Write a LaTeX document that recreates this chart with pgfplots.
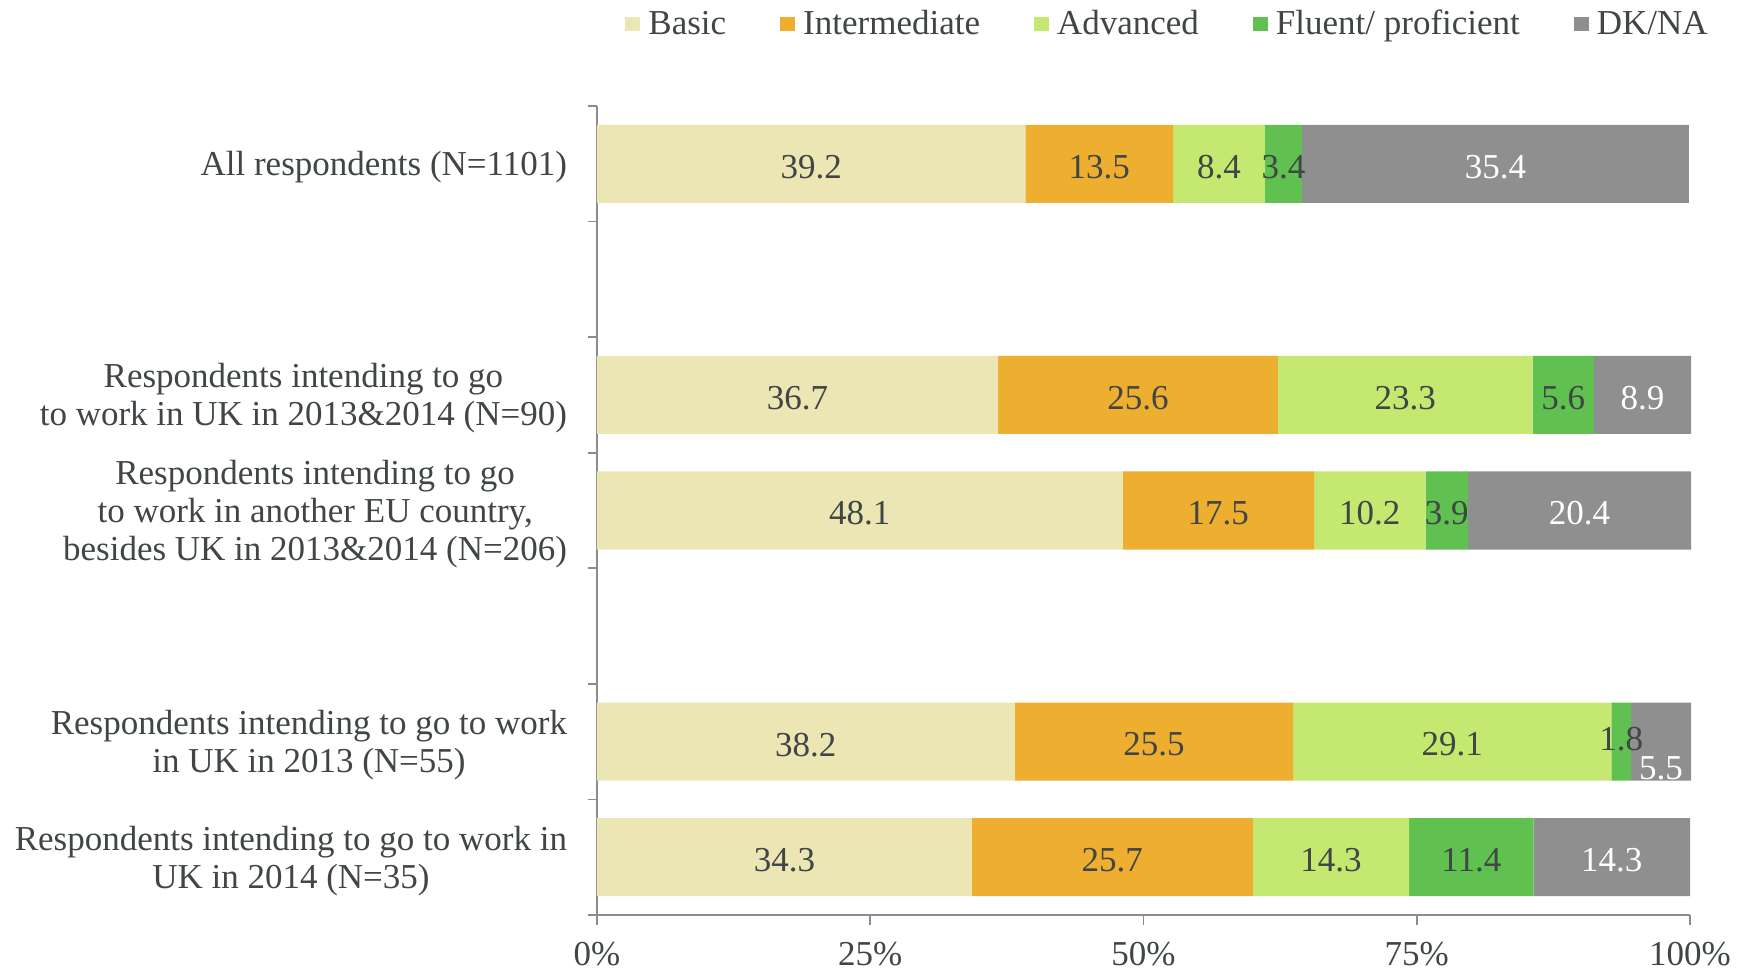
\documentclass[border=0pt]{standalone}
\usepackage{pgfplots}
\usepackage{pgfplotstable}
\pgfplotsset{compat=1.18}
\usepackage{fontspec}
\setmainfont{Liberation Serif}
\definecolor{cBasic}{HTML}{EBE6B3}
\definecolor{cInter}{HTML}{EEAE30}
\definecolor{cAdv}{HTML}{C5E870}
\definecolor{cFluent}{HTML}{60C150}
\definecolor{cDK}{HTML}{8E8F8E}
\definecolor{txt}{HTML}{404545}
\definecolor{axc}{HTML}{8C8C8C}
\pgfplotstableread{
y   basic inter adv fluent dk   dyfl dydk
6.5 39.2  13.5  8.4 3.4    35.4 0    0
4.5 36.7  25.6  23.3 5.6   8.9  0    0
3.5 48.1  17.5  10.2 3.9   20.4 0    0
1.5 38.2  25.5  29.1 1.8   5.5  3    -12
0.5 34.3  25.7  14.3 11.4  14.3 0    0
}\data
\begin{document}
\begin{tikzpicture}
\begin{axis}[
  xbar stacked,
  scale only axis,
  width=546.5pt, height=404.5pt,
  xmin=0, xmax=100, ymin=0, ymax=7,
  bar width=0.675,
  axis lines*=left,
  axis line style={axc, line width=0.8pt},
  tick style={axc, line width=0.8pt},
  tick align=outside,
  font=\fontsize{17.5}{19}\selectfont\color{txt},
  /pgf/number format/assume math mode=true,
  xtick={0,25,50,75,100},
  xticklabels={0\%,25\%,50\%,75\%,100\%},
  xticklabel style={yshift=-6pt},
  x tick style={/pgfplots/major tick length=5pt},
  ytick={0.5,1.5,3.5,4.5,6.5},
  yticklabels={{Respondents intending to go to work in\\UK in 2014 (N=35)},
               {Respondents intending to go to work\\in UK in 2013 (N=55)},
               {Respondents intending to go\\to work in another EU country,\\besides UK in 2013\&2014 (N=206)},
               {Respondents intending to go\\to work in UK in 2013\&2014 (N=90)},
               {All respondents (N=1101)}},
  yticklabel style={align=center, inner sep=0pt, xshift=-10.5pt, yshift=-1.7pt},
  y tick style={/pgfplots/major tick length=0pt},
  minor ytick={0,1,2,3,4,5,6,7},
  minor tick length=4.5pt,
  nodes near coords,
  nodes near coords style={anchor=center, text=txt, font=\fontsize{17.5}{19}\selectfont, yshift=-1.5pt},
  /pgf/number format/.cd, fixed, precision=1, fixed zerofill, /pgfplots/.cd,
  legend columns=-1,
  legend style={draw=none, fill=none, at={(axis description cs:0.523,1)}, anchor=center, yshift=41pt,
    font=\fontsize{17.5}{19}\selectfont\color{txt},
    /tikz/every even column/.append style={column sep=25pt}},
  legend image code/.code={\fill[#1] (0pt,-3.6pt) rectangle (7.3pt,3.7pt); \path (0pt,0pt) -- (9.5pt,0pt);},
  clip=false,
]
\addplot[draw=none, fill=cBasic] table[x=basic, y=y] {\data};
\addplot[draw=none, fill=cInter] table[x=inter, y=y] {\data};
\addplot[draw=none, fill=cAdv] table[x=adv, y=y] {\data};
\addplot[draw=none, fill=cFluent,
  visualization depends on={\thisrow{dyfl} \as \dy},
  nodes near coords style={yshift=\dy pt}]
  table[x=fluent, y=y] {\data};
\addplot[draw=none, fill=cDK,
  visualization depends on={\thisrow{dydk} \as \dy},
  nodes near coords style={yshift=\dy pt, text=white}]
  table[x=dk, y=y] {\data};
\legend{Basic, Intermediate, Advanced, Fluent/ proficient, DK/NA}
\end{axis}
\pgfresetboundingbox
\path[use as bounding box] (current axis.south west) ++(-298.5pt,-29pt) rectangle ++(874.5pt,486.5pt);
\end{tikzpicture}
\end{document}
